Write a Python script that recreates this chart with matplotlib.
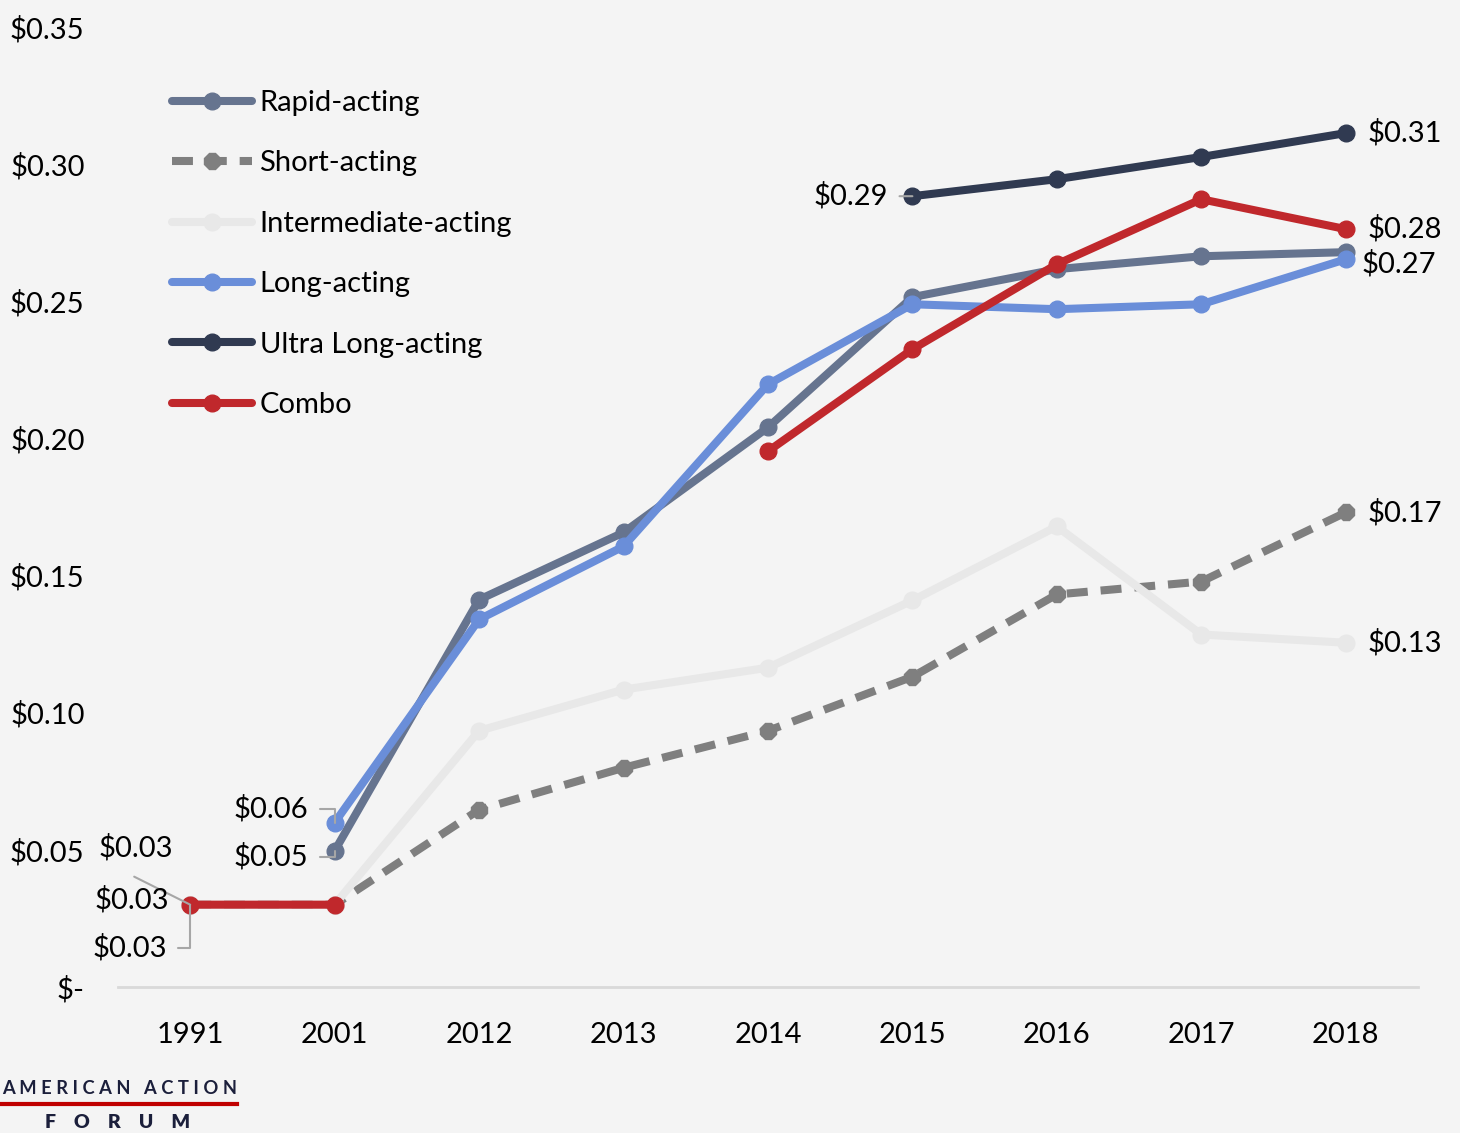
import matplotlib.pyplot as plt
import numpy as np
from matplotlib.lines import Line2D

plt.rcParams['font.family'] = ['Lato', 'DejaVu Sans']

years = ['1991', '2001', '2012', '2013', '2014', '2015', '2016', '2017', '2018']
nan = float('nan')

rapid = [nan, 0.0496, 0.1412, 0.1657, 0.2040, 0.2515, 0.2617, 0.2664, 0.2679]
short = [0.03, 0.03, 0.0646, 0.0799, 0.0934, 0.1131, 0.1431, 0.1478, 0.1730]
intermediate = [0.03, 0.03, 0.0934, 0.1084, 0.1164, 0.1409, 0.1679, 0.1285, 0.1255]
long_acting = [nan, 0.0599, 0.1340, 0.1606, 0.2197, 0.2489, 0.2471, 0.2489, 0.2653]
ultra = [nan, nan, nan, nan, nan, 0.2883, 0.2945, 0.3026, 0.3113]
combo = [0.03, 0.03, nan, nan, 0.1953, 0.2325, 0.2635, 0.2872, 0.2763]

yticks = [0, 0.05, 0.10, 0.15, 0.20, 0.25, 0.30, 0.35]

BG = '#f4f4f4'
fig = plt.figure(figsize=(14.6, 11.33), dpi=100, facecolor=BG)
ax = fig.add_axes([0.0808, 0.1289, 0.8904, 0.8473])
ax.set_facecolor(BG)

x = np.arange(len(years))
lw = 5.8


def draw(vals, color, label, marker='o', ms=12, **kw):
    ax.plot(x, vals, color=color, lw=lw, marker=marker, ms=ms,
            solid_capstyle='round', label=label, **kw)


draw(rapid, '#66748f', 'Rapid-acting')
draw(short, '#7f7f7f', 'Short-acting', ls=(0, (2.6, 1.6)), marker='8', ms=13)
draw(intermediate, '#e8e8e8', 'Intermediate-acting')
draw(long_acting, '#6a8ed9', 'Long-acting')
draw(ultra, '#303a51', 'Ultra Long-acting')
draw(combo, '#c0282c', 'Combo')

ax.set_xlim(-0.5, len(years) - 0.5)
ax.set_ylim(0, 0.35)
ax.set_xticks(x)
ax.set_xticklabels(years)
ax.set_yticks(yticks)
ax.set_yticklabels(['$-' if v == 0 else f'${v:.2f}' for v in yticks])
ax.tick_params(axis='both', length=0, labelsize=21)
ax.tick_params(axis='y', pad=24)
ax.tick_params(axis='x', pad=25.5)
for s in ['left', 'right', 'top']:
    ax.spines[s].set_visible(False)
ax.spines['bottom'].set_color('#d9d9d9')
ax.spines['bottom'].set_linewidth(2)

fs = 21
lc = '#a6a6a6'


def lab(v):
    return f'${v:.2f}'


# right-hand end labels
for vals, dx, dy in [(ultra, 22, 0), (combo, 22, 0), (long_acting, 16, -4),
                     (short, 22, 0), (intermediate, 22, 0)]:
    ax.annotate(lab(vals[-1]), (x[-1], vals[-1]), xytext=(dx, dy),
                textcoords='offset pixels', va='center', ha='left', fontsize=fs)


# left leader-line labels
def leader(xi, v, tx, ty, path=None):
    ax.annotate(lab(v), (xi, v), xytext=(tx, ty), textcoords='offset pixels',
                ha='right', va='center', fontsize=fs,
                arrowprops=dict(arrowstyle='-', color=lc, lw=1.5,
                                shrinkA=6, shrinkB=0,
                                connectionstyle=path or 'arc3'))


leader(5, ultra[5], -24, 0)
leader(1, long_acting[1], -26, 14, 'angle,angleA=0,angleB=90,rad=0')
leader(1, rapid[1], -26, -6, 'angle,angleA=0,angleB=90,rad=0')
ax.annotate(lab(combo[0]), (0, combo[0]), xytext=(-17, 57), textcoords='offset pixels',
            ha='right', va='center', fontsize=fs)
ax.annotate('', (0, combo[0]), xytext=(-56, 28), textcoords='offset pixels',
            arrowprops=dict(arrowstyle='-', color=lc, lw=1.5, shrinkA=0, shrinkB=0))
ax.annotate(lab(short[0]), (0, short[0]), xytext=(-21, 5), textcoords='offset pixels',
            ha='right', va='center', fontsize=fs)
leader(0, intermediate[0], -23, -43, 'angle,angleA=0,angleB=90,rad=0')

leg = ax.legend(loc='upper left', bbox_to_anchor=(172 / 1460, 1 - 90 / 1133),
                bbox_transform=fig.transFigure, frameon=False, fontsize=fs,
                handlelength=2.75, handletextpad=0.25, labelspacing=1.18,
                borderaxespad=0, borderpad=0)

# logo
fig.text(2 / 1460, 1 - 1088 / 1133, 'A M E R I C A N   A C T I O N', fontsize=13.2,
         color='#1b1f3b', va='center', ha='left', fontweight='bold')
fig.add_artist(Line2D([0, 237 / 1460], [1 - 1104 / 1133] * 2, color='#c00000', lw=3,
                      transform=fig.transFigure))
fig.text(118 / 1460, 1 - 1122 / 1133, 'F    O    R    U    M', fontsize=14,
         color='#1b1f3b', va='center', ha='center', fontweight='heavy')

fig.savefig('out.png', dpi=100, facecolor=BG)
